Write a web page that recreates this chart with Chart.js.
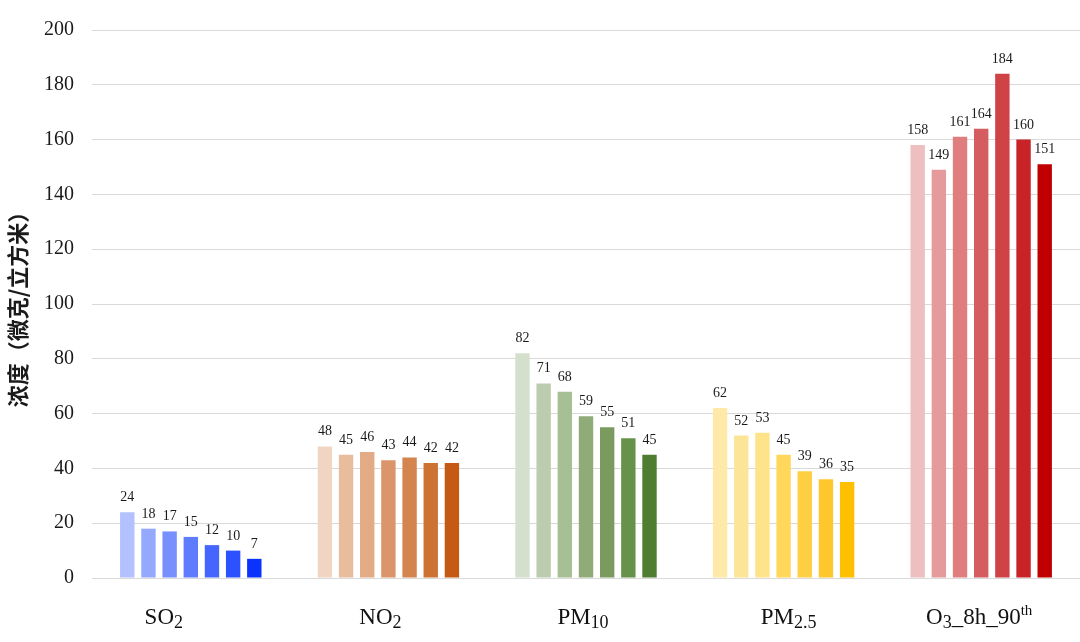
<!DOCTYPE html>
<html>
<head>
<meta charset="utf-8">
<script src="https://cdn.jsdelivr.net/npm/chart.js@4"></script>
<style>
  body { margin: 0; background: #fff; }
  #wrap { width: 1080px; height: 642px; }
</style>
</head>
<body>
<div id="wrap"><canvas id="chart"></canvas></div>
<script>
// pollutant groups on the x axis
const categories = ['SO2', 'NO2', 'PM10', 'PM2.5', 'O3_8h_90th'];

// x tick labels, split into [text, kind] parts: 0 normal, 1 subscript, 2 superscript
const tickParts = [
    [['SO', 0], ['2', 1]],
    [['NO', 0], ['2', 1]],
    [['PM', 0], ['10', 1]],
    [['PM', 0], ['2.5', 1]],
    [['O', 0], ['3', 1], ['_8h_90', 0], ['th', 2]]
];

// seven bars per pollutant, left to right
const so2 = [24, 18, 17, 15, 12, 10, 7];
const no2 = [48, 45, 46, 43, 44, 42, 42];
const pm10 = [82, 71, 68, 59, 55, 51, 45];
const pm25 = [62, 52, 53, 45, 39, 36, 35];
const o3 = [158, 149, 161, 164, 184, 160, 151];

// colour ramps, light to dark
const blues = ['#b3c1fe', '#94a8fe', '#7890fe', '#5f7cfe', '#4466fe', '#2b52fe', '#0a34fe'];
const oranges = ['#f0d5c3', '#e8bd9e', '#e3aa86', '#da956a', '#d4844f', '#cc7333', '#c55a15'];
const greens = ['#d5e0cc', '#bccdaf', '#a7bf94', '#8fab78', '#7a9a60', '#679249', '#4f7e30'];
const yellows = ['#fde9a8', '#fde597', '#fee38a', '#fed75b', '#fecf42', '#fec72b', '#fec000'];
const reds = ['#eebfc0', '#e59b9c', '#e07e7f', '#d65d5f', '#cf4245', '#c82327', '#c00000'];

const groups = [so2, no2, pm10, pm25, o3];
const ramps = [blues, oranges, greens, yellows, reds];

// one dataset per bar position, coloured by group
const datasets = so2.map((_, i) => ({
    data: groups.map(g => g[i]),
    backgroundColor: ramps.map(r => r[i]),
    borderWidth: 0,
    categoryPercentage: 0.75,
    barPercentage: 0.68
}));

const serif = '"Liberation Serif", "Times New Roman", serif';

// numbers above each bar
const valueLabels = {
    id: 'valueLabels',
    afterDatasetsDraw(chart) {
        const ctx = chart.ctx;
        ctx.save();
        ctx.font = '14px ' + serif;
        ctx.fillStyle = '#1a1a1a';
        ctx.textAlign = 'center';
        ctx.textBaseline = 'alphabetic';
        chart.data.datasets.forEach((ds, i) => {
            chart.getDatasetMeta(i).data.forEach((bar, j) => {
                ctx.fillText(ds.data[j], bar.x, bar.y - 11);
            });
        });
        ctx.restore();
    }
};

// category names with sub/superscripts
const richTicks = {
    id: 'richTicks',
    afterDraw(chart) {
        const ctx = chart.ctx;
        const x = chart.scales.x;
        const base = chart.chartArea.bottom + 46;
        const fonts = ['23px ' + serif, '18px ' + serif, '15px ' + serif];
        const shift = [0, 4, -9];
        // the labels in the original sit a little off their group centres
        const nudge = [-27, -8, -3, 5, -2];
        ctx.save();
        ctx.fillStyle = '#111';
        ctx.textAlign = 'left';
        ctx.textBaseline = 'alphabetic';
        tickParts.forEach((parts, i) => {
            let total = 0;
            parts.forEach(p => { ctx.font = fonts[p[1]]; total += ctx.measureText(p[0]).width; });
            let cx = x.getPixelForValue(i) + nudge[i] - total / 2;
            parts.forEach(p => {
                ctx.font = fonts[p[1]];
                ctx.fillText(p[0], cx, base + shift[p[1]]);
                cx += ctx.measureText(p[0]).width;
            });
        });
        ctx.restore();
    }
};

new Chart(document.getElementById('chart'), {
    type: 'bar',
    data: { labels: categories, datasets: datasets },
    options: {
        responsive: true,
        maintainAspectRatio: false,
        animation: false,
        layout: { padding: { top: 28, right: 0, left: 0, bottom: 0 } },
        plugins: {
            legend: { display: false },
            tooltip: { enabled: false }
        },
        scales: {
            x: {
                grid: { display: false },
                border: { display: false },
                ticks: { display: false },
                afterFit: s => { s.height = 64; }
            },
            y: {
                min: 0,
                max: 200,
                ticks: {
                    stepSize: 20,
                    padding: 18,
                    color: '#1a1a1a',
                    font: { family: serif, size: 20 }
                },
                grid: { color: '#d9d9d9', drawTicks: false, lineWidth: 1 },
                border: { display: false },
                title: {
                    display: true,
                    text: '浓度（微克/立方米）',
                    color: '#1a1a1a',
                    padding: { top: 4, bottom: 0 },
                    font: { family: '"Noto Sans CJK SC", sans-serif', size: 22, weight: 'bold' }
                },
                afterFit: s => { s.width = 92; }
            }
        }
    },
    plugins: [valueLabels, richTicks]
});
</script>
</body>
</html>
